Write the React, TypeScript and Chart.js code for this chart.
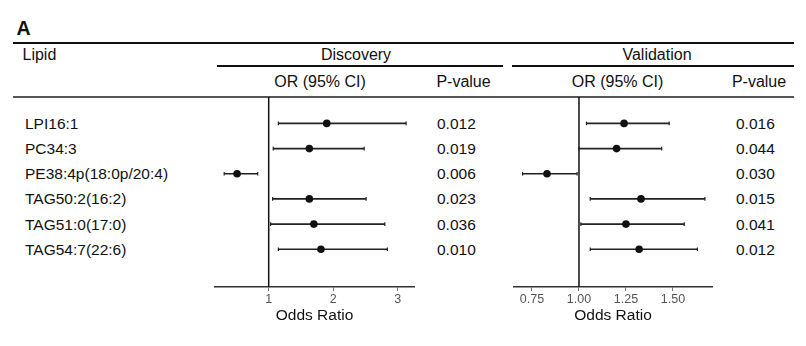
import React, { useEffect, useRef } from "react";
import { Chart, registerables } from "chart.js";

Chart.register(...registerables);

// ---------------- data ----------------
const lipids = [
  "LPI16:1",
  "PC34:3",
  "PE38:4p(18:0p/20:4)",
  "TAG50:2(16:2)",
  "TAG51:0(17:0)",
  "TAG54:7(22:6)",
];
const discOR = [1.9, 1.63, 0.51, 1.63, 1.7, 1.81];
const discLo = [1.15, 1.07, 0.31, 1.06, 1.03, 1.15];
const discHi = [3.13, 2.48, 0.83, 2.51, 2.8, 2.84];
const discP = ["0.012", "0.019", "0.006", "0.023", "0.036", "0.010"];

const valOR = [1.24, 1.2, 0.83, 1.33, 1.25, 1.32];
const valLo = [1.04, 1.0, 0.7, 1.06, 1.01, 1.06];
const valHi = [1.48, 1.44, 0.99, 1.67, 1.56, 1.63];
const valP = ["0.016", "0.044", "0.030", "0.015", "0.041", "0.012"];

const discTicks = [1, 2, 3];
const valTicks = [0.75, 1.0, 1.25, 1.5];

// ---------------- layout ----------------
const FONT = '"Liberation Sans", Arial, Helvetica, sans-serif';
const AREA_TOP = 97;
const AREA_H = 190;
const AXIS_H = 38;
const Y_MIN = -0.05;
const Y_MAX = 7.5;
const INK = "#111";

Chart.defaults.font.family = FONT;

function rowY(i: number) {
  return AREA_TOP + ((i + 1 - Y_MIN) / (Y_MAX - Y_MIN)) * AREA_H + 0.5;
}

type PanelProps = {
  left: number;
  width: number;
  xMin: number;
  xMax: number;
  or: number[];
  lo: number[];
  hi: number[];
  ticks: number[];
  decimals: number;
};

function ForestPanel(p: PanelProps) {
  const ref = useRef<HTMLCanvasElement | null>(null);
  useEffect(() => {
    if (!ref.current) return;
    const ciSets = p.lo.map((l, i) => ({
      type: "scatter" as const,
      data: [
        { x: l, y: i + 1 },
        { x: p.hi[i], y: i + 1 },
      ],
      showLine: true,
      borderColor: "#222",
      borderWidth: 1.6,
      pointStyle: "line" as const,
      rotation: 90,
      pointRadius: 1.8,
      pointBorderWidth: 1.2,
      pointBorderColor: "#222",
      order: 2,
    }));
    const refLine = {
      type: "scatter" as const,
      data: [
        { x: 1, y: Y_MIN },
        { x: 1, y: Y_MAX },
      ],
      showLine: true,
      borderColor: INK,
      borderWidth: 1.5,
      pointRadius: 0,
      order: 3,
    };
    const pts = {
      type: "scatter" as const,
      data: p.or.map((v, i) => ({ x: v, y: i + 1 })),
      pointRadius: 3.8,
      pointBackgroundColor: INK,
      pointBorderWidth: 0,
      order: 1,
    };
    const chart = new Chart(ref.current, {
      type: "scatter",
      data: { datasets: [refLine, ...ciSets, pts] as any },
      options: {
        animation: false,
        responsive: false,
        maintainAspectRatio: false,
        events: [],
        layout: { padding: 0, autoPadding: false },
        plugins: { legend: { display: false }, tooltip: { enabled: false } },
        scales: {
          x: {
            type: "linear",
            min: p.xMin,
            max: p.xMax,
            position: "bottom",
            afterBuildTicks: (s: any) => {
              s.ticks = p.ticks.map((v) => ({ value: v }));
            },
            afterFit: (s: any) => {
              s.height = AXIS_H;
              s.paddingLeft = 0;
              s.paddingRight = 0;
            },
            grid: {
              drawOnChartArea: false,
              drawTicks: true,
              tickLength: 4,
              color: "#777",
              lineWidth: 1,
            },
            border: { display: true, color: "#333", width: 1.5 },
            ticks: {
              font: { size: 12.5, family: FONT },
              color: "#555",
              padding: 1,
              autoSkip: false,
              maxRotation: 0,
              callback: (v: any) =>
                p.decimals ? Number(v).toFixed(p.decimals) : String(v),
            },
            title: {
              display: true,
              text: "Odds Ratio",
              font: { size: 15.5, family: FONT },
              color: INK,
              padding: 0,
            },
          },
          y: {
            type: "linear",
            display: false,
            min: Y_MIN,
            max: Y_MAX,
            reverse: true,
          },
        },
      } as any,
    });
    return () => chart.destroy();
  }, []);
  return (
    <canvas
      ref={ref}
      width={p.width}
      height={AREA_H + AXIS_H}
      style={{
        position: "absolute",
        left: p.left,
        top: AREA_TOP,
        width: p.width,
        height: AREA_H + AXIS_H,
      }}
    />
  );
}

function Txt(props: {
  x: number;
  y: number;
  size: number;
  align?: "left" | "center";
  bold?: boolean;
  children: React.ReactNode;
}) {
  const center = props.align === "center";
  return (
    <div
      style={{
        position: "absolute",
        left: props.x,
        top: props.y,
        transform: center ? "translate(-50%,-50%)" : "translateY(-50%)",
        fontSize: props.size,
        lineHeight: 1,
        fontWeight: props.bold ? 700 : 400,
        whiteSpace: "nowrap",
        color: INK,
        fontFamily: FONT,
      }}
    >
      {props.children}
    </div>
  );
}

function Rule(props: { x1: number; x2: number; y: number; h: number; color: string }) {
  return (
    <div
      style={{
        position: "absolute",
        left: props.x1,
        top: props.y - props.h / 2,
        width: props.x2 - props.x1,
        height: props.h,
        background: props.color,
      }}
    />
  );
}

export default function App() {
  return (
    <div
      style={{
        position: "absolute",
        left: 0,
        top: 0,
        width: 806,
        height: 346,
        background: "#fff",
        overflow: "hidden",
        fontFamily: FONT,
      }}
    >
      <Txt x={16.5} y={28.5} size={19.5} bold>
        A
      </Txt>
      <Rule x1={13} x2={794} y={42.5} h={2} color={INK} />
      <Txt x={22.5} y={55} size={16}>
        Lipid
      </Txt>
      <Txt x={356} y={55} size={16} align="center">
        Discovery
      </Txt>
      <Txt x={657} y={55} size={16} align="center">
        Validation
      </Txt>
      <Rule x1={217} x2={503} y={66} h={2} color={INK} />
      <Rule x1={512} x2={794} y={66} h={2} color={INK} />
      <Txt x={320} y={81.5} size={16} align="center">
        OR (95% CI)
      </Txt>
      <Txt x={463.5} y={81.5} size={16} align="center">
        P-value
      </Txt>
      <Txt x={617.5} y={81.5} size={16} align="center">
        OR (95% CI)
      </Txt>
      <Txt x={759} y={81.5} size={16} align="center">
        P-value
      </Txt>
      <Rule x1={13} x2={794} y={97} h={1.2} color="#555" />

      {lipids.map((l, i) => (
        <Txt key={"l" + i} x={25} y={rowY(i)} size={15.5}>
          {l}
        </Txt>
      ))}
      {discP.map((v, i) => (
        <Txt key={"dp" + i} x={437} y={rowY(i)} size={15.5}>
          {v}
        </Txt>
      ))}
      {valP.map((v, i) => (
        <Txt key={"vp" + i} x={736} y={rowY(i)} size={15.5}>
          {v}
        </Txt>
      ))}

      <ForestPanel
        left={214}
        width={201}
        xMin={0.152}
        xMax={3.268}
        or={discOR}
        lo={discLo}
        hi={discHi}
        ticks={discTicks}
        decimals={0}
      />
      <ForestPanel
        left={513}
        width={200}
        xMin={0.649}
        xMax={1.713}
        or={valOR}
        lo={valLo}
        hi={valHi}
        ticks={valTicks}
        decimals={2}
      />
    </div>
  );
}
